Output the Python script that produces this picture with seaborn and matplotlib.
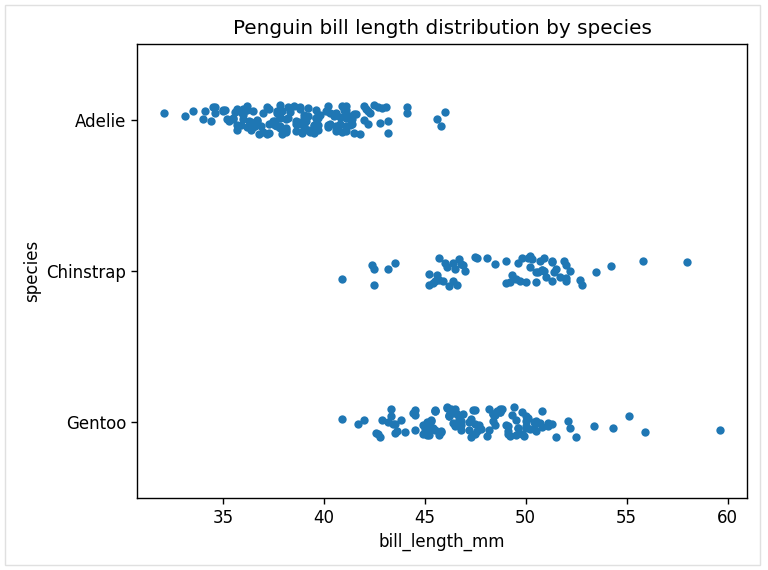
import numpy as np
import pandas as pd
import matplotlib
matplotlib.use("Agg")
import matplotlib.pyplot as plt
import seaborn as sns
from matplotlib.patches import Rectangle

# bill lengths (mm), read per species
adelie = [39.1, 39.5, 40.3, 36.7, 39.3, 38.9, 39.2, 34.1, 42.0, 37.8, 37.8, 41.1, 38.6, 34.6,
          36.6, 38.7, 42.5, 34.4, 46.0, 37.8, 37.7, 35.9, 38.2, 38.8, 35.3, 40.6, 40.5, 37.9,
          40.5, 39.5, 37.2, 39.5, 40.9, 36.4, 39.2, 38.8, 42.2, 37.6, 39.8, 36.5, 40.8, 36.0,
          44.1, 37.0, 39.6, 41.1, 37.5, 36.0, 42.3, 39.6, 40.1, 35.0, 42.0, 34.5, 41.4, 39.0,
          40.6, 36.5, 37.6, 35.7, 41.3, 37.6, 41.1, 36.4, 41.6, 35.5, 41.1, 35.9, 41.8, 33.5,
          39.7, 39.6, 45.8, 35.5, 42.8, 40.9, 37.2, 36.2, 42.1, 34.6, 42.9, 36.7, 35.1, 37.3,
          41.3, 36.3, 36.9, 38.3, 38.9, 35.7, 41.1, 34.0, 39.6, 36.2, 40.8, 38.1, 40.3, 33.1,
          43.2, 35.0, 41.0, 37.7, 37.8, 37.9, 39.7, 38.6, 38.2, 38.1, 43.2, 38.1, 45.6, 39.7,
          42.2, 39.6, 42.7, 38.6, 37.3, 35.7, 41.1, 36.2, 37.7, 40.2, 41.4, 35.2, 40.6, 38.8,
          41.5, 39.0, 44.1, 38.5, 43.1, 36.8, 37.5, 38.1, 41.1, 35.6, 40.2, 37.0, 39.7, 40.2,
          40.6, 32.1, 40.7, 37.3, 39.0, 39.2, 36.6, 36.0, 37.8, 36.0, 41.5]
chinstrap = [46.5, 50.0, 51.3, 45.4, 52.7, 45.2, 46.1, 51.3, 46.0, 51.3, 46.6, 51.7, 47.0, 52.0,
             45.9, 50.5, 50.3, 58.0, 46.4, 49.2, 42.4, 48.5, 43.2, 50.6, 46.7, 52.0, 50.5, 49.5,
             46.4, 52.8, 40.9, 54.2, 42.5, 51.0, 49.7, 47.5, 47.6, 52.0, 46.9, 53.5, 49.0, 46.2,
             50.9, 45.5, 50.9, 50.8, 50.1, 49.0, 51.5, 49.8, 48.1, 51.4, 45.7, 50.7, 42.5, 52.2,
             45.2, 49.3, 50.2, 45.6, 51.9, 46.8, 45.7, 55.8, 43.5, 49.6, 50.8, 50.2]
gentoo = [46.1, 50.0, 48.7, 50.0, 47.6, 46.5, 45.4, 46.7, 43.3, 46.8, 40.9, 49.0, 45.5, 48.4,
          45.8, 49.3, 42.0, 49.2, 46.2, 48.7, 50.2, 45.1, 46.5, 46.3, 42.9, 46.1, 44.5, 47.8,
          48.2, 50.0, 47.3, 42.8, 45.1, 59.6, 49.1, 48.4, 42.6, 44.4, 44.0, 48.7, 42.7, 49.6,
          45.3, 49.6, 50.5, 43.6, 45.5, 50.5, 44.9, 45.2, 46.6, 48.5, 45.1, 50.1, 46.5, 45.0,
          43.8, 45.5, 43.2, 50.4, 45.3, 46.2, 45.7, 54.3, 45.8, 49.8, 46.2, 49.5, 43.5, 50.7,
          47.7, 46.4, 48.2, 46.5, 46.4, 48.6, 47.5, 51.1, 45.2, 45.2, 49.1, 52.5, 47.4, 50.0,
          44.9, 50.8, 43.4, 51.3, 47.5, 52.1, 47.5, 52.2, 45.5, 49.5, 44.5, 50.8, 49.4, 46.9,
          48.4, 51.1, 48.5, 55.9, 47.2, 49.1, 47.3, 46.8, 41.7, 53.4, 43.3, 48.1, 50.5, 49.8,
          43.5, 51.5, 46.2, 55.1, 44.5, 48.8, 47.2, 46.8, 50.4, 45.2, 49.9]
species_names = ["Adelie", "Chinstrap", "Gentoo"]

df = pd.DataFrame({
    "species": ["Adelie"] * len(adelie) + ["Chinstrap"] * len(chinstrap) + ["Gentoo"] * len(gentoo),
    "bill_length_mm": adelie + chinstrap + gentoo,
})

np.random.seed(3)
plt.rcParams["font.family"] = ["DejaVu Sans"]
fig = plt.figure(figsize=(7.68, 5.70), dpi=100)
ax = fig.add_axes([0.178, 0.126, 0.795, 0.797])

sns.stripplot(data=df, x="bill_length_mm", y="species", order=species_names,
              size=6, ax=ax)
ax.set_title("Penguin bill length distribution by species", fontsize=14.4, pad=7)
ax.set_xlabel("bill_length_mm", fontsize=12)
ax.set_ylabel("species", fontsize=12)
ax.tick_params(labelsize=12, width=1, length=4.2)
for s in ax.spines.values():
    s.set_linewidth(1)

# light frame around the whole image
fig.patches.append(Rectangle((5 / 768, 5 / 570), 755 / 768, 560 / 570, transform=fig.transFigure,
                             fill=False, edgecolor="#e0e0e0", linewidth=1))

fig.savefig("out.png", dpi=100)
